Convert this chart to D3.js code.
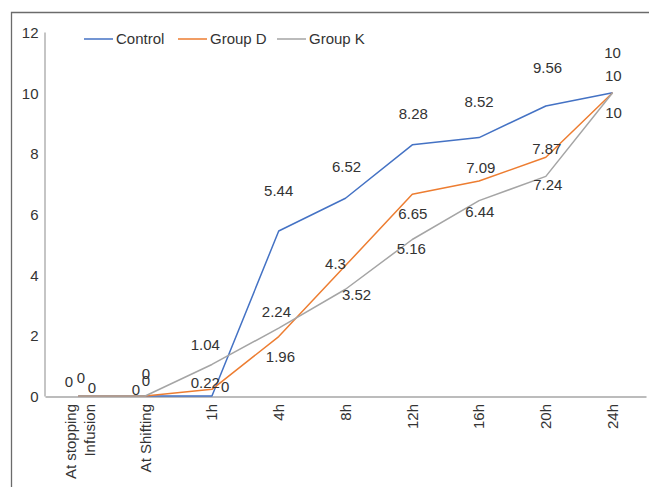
<!DOCTYPE html>
<html>
<head>
<meta charset="utf-8">
<script src="https://cdn.jsdelivr.net/npm/d3@7"></script>
<style>
  html, body { margin: 0; padding: 0; background: #fff; }
  svg { display: block; font-family: "Liberation Sans", Arial, sans-serif; }
</style>
</head>
<body>
<svg id="chart" width="649" height="487"></svg>
<script>
// Time points (x categories); "\n" splits a label over two lines
const categories = ["At stopping\nInfusion", "At Shifting", "1h", "4h", "8h", "12h", "16h", "20h", "24h"];

// Scores per group
const control = [0, 0, 0, 5.44, 6.52, 8.28, 8.52, 9.56, 10];
const groupD  = [0, 0, 0.22, 1.96, 4.3, 6.65, 7.09, 7.87, 10];
const groupK  = [0, 0, 1.04, 2.24, 3.52, 5.16, 6.44, 7.24, 10];

const seriesNames = ["Control", "Group D", "Group K"];
const yTicks = [0, 2, 4, 6, 8, 10, 12];

// Placement of each value label relative to its point (pixels)
const labelOffsets = {
  "Control": [[13.6,-8.7],[-9.3,-6],[13.3,-9],[0,-40],[1,-31.5],[1,-31],[0,-36],[1.7,-38],[0,-39.7]],
  "Group D": [[-9.4,-14.3],[0.8,-15],[-6.7,-6.3],[1.7,20.4],[-10,-2.3],[0.5,19.4],[1.7,-13.7],[1,-9],[0.7,-16.7]],
  "Group K": [[2.6,-18.3],[0.8,-22],[-6.7,-19.5],[-2.3,-16.3],[11,5.8],[-1,8.8],[0.7,11],[2,7.9],[1,20]]
};

const colors = { "Control": "#4472C4", "Group D": "#ED7D31", "Group K": "#A5A5A5" };
const series = [
  { name: "Control", values: control },
  { name: "Group D", values: groupD },
  { name: "Group K", values: groupK }
];

const svg = d3.select("#chart");
const textColor = "#333333";
const axisColor = "#a6a6a6";
const fontSize = 15;
const capMid = 0.358 * fontSize; // offset from digit centre to baseline

// Outer frame
svg.append("path")
  .attr("d", "M11.5,487 L11.5,12.5 L649,12.5")
  .attr("fill", "none")
  .attr("stroke", "#6b6b6b")
  .attr("stroke-width", 1.3);

const x = d3.scaleBand().domain(categories).range([45, 646]).padding(0);
const y = d3.scaleLinear().domain([0, 12]).range([396, 32]);
const cx = c => x(c) + x.bandwidth() / 2;

// Y axis
const yAxis = svg.append("g")
  .attr("transform", "translate(44.5,0)")
  .call(d3.axisLeft(y).tickValues(yTicks).tickSize(0).tickPadding(6).tickFormat(d3.format("d")));
yAxis.select(".domain").attr("stroke", axisColor).attr("stroke-width", 1.3);
yAxis.selectAll("text")
  .attr("font-size", fontSize)
  .attr("fill", textColor)
  .attr("font-family", "Liberation Sans, Arial, sans-serif")
  .attr("dy", null)
  .attr("y", capMid);

// X axis
const xAxis = svg.append("g")
  .attr("transform", "translate(0,396.5)")
  .call(d3.axisBottom(x).tickSize(0).tickFormat(""));
xAxis.select(".domain").attr("stroke", axisColor).attr("stroke-width", 1.3);

// Rotated category labels
const xl = svg.append("g");
categories.forEach(c => {
  const lines = c.split("\n");
  const shifts = lines.length === 1 ? [0] : [-7.5, 11.5];
  lines.forEach((ln, i) => {
    const tx = cx(c) + shifts[i] + capMid;
    xl.append("text")
      .attr("transform", `translate(${tx},404) rotate(-90)`)
      .attr("text-anchor", "end")
      .attr("font-size", fontSize)
      .attr("fill", textColor)
      .text(ln);
  });
});

// Lines
const line = d3.line()
  .x((d, i) => cx(categories[i]))
  .y(d => y(d));

series.forEach(s => {
  svg.append("path")
    .datum(s.values)
    .attr("fill", "none")
    .attr("stroke", colors[s.name])
    .attr("stroke-width", 1.5)
    .attr("stroke-linejoin", "round")
    .attr("d", line);
});

// Value labels
series.forEach(s => {
  svg.append("g").selectAll("text")
    .data(s.values)
    .join("text")
    .attr("x", (d, i) => cx(categories[i]) + labelOffsets[s.name][i][0])
    .attr("y", (d, i) => y(d) + labelOffsets[s.name][i][1] + capMid)
    .attr("text-anchor", "middle")
    .attr("font-size", fontSize)
    .attr("fill", textColor)
    .text(d => d);
});

// Legend
const legendX = [84, 178, 277];
const legend = svg.append("g");
seriesNames.forEach((n, i) => {
  legend.append("line")
    .attr("x1", legendX[i]).attr("x2", legendX[i] + 29)
    .attr("y1", 39).attr("y2", 39)
    .attr("stroke", colors[n]).attr("stroke-width", 1.5);
  legend.append("text")
    .attr("x", legendX[i] + 32)
    .attr("y", 39 + capMid)
    .attr("font-size", fontSize)
    .attr("fill", textColor)
    .text(n);
});
</script>
</body>
</html>
